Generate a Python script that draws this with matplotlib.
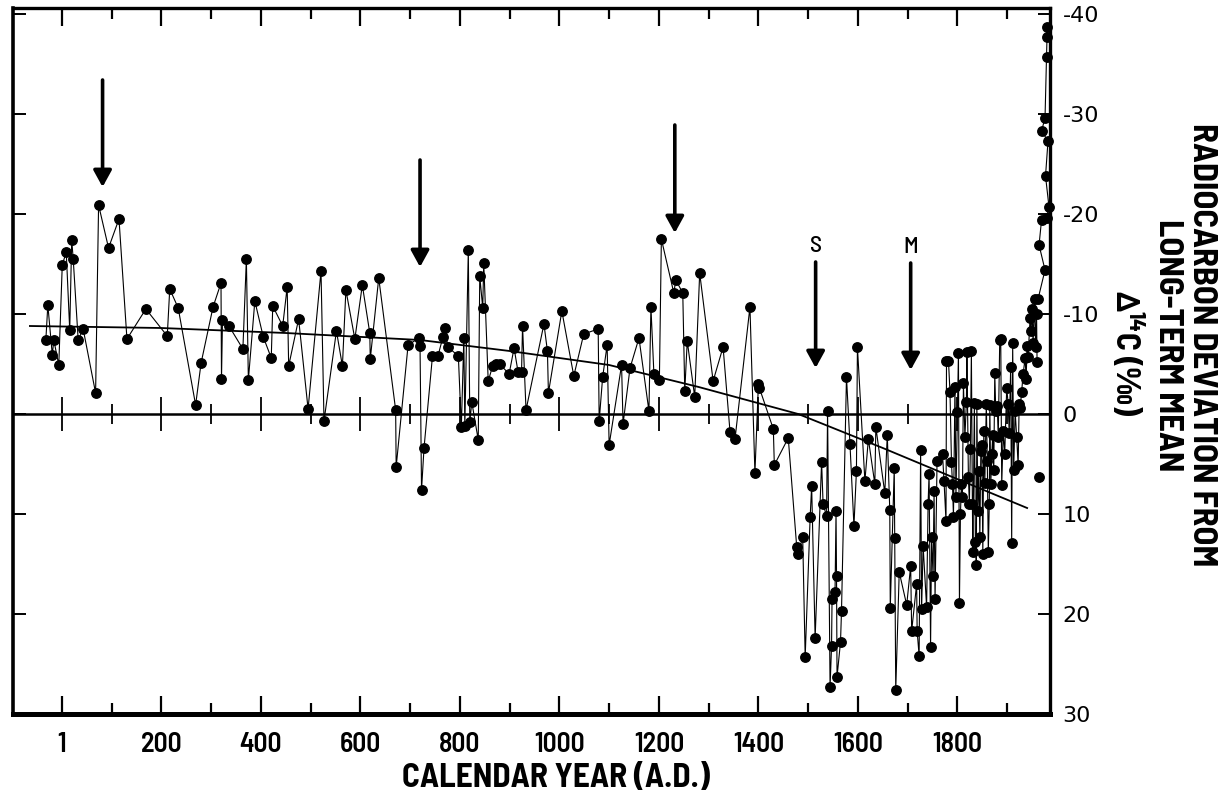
import matplotlib
matplotlib.use("Agg")
import matplotlib.pyplot as plt
from matplotlib import font_manager
from matplotlib.ticker import FixedLocator

# ---------------- data ----------------
years = [-32, -28, -19, -16, -6, 1, 9, 16, 20, 23, 33, 43, 68, 74, 94, 115, 131, 169,
         212, 217, 234, 269, 280, 304, 320, 321, 323, 336, 364, 371, 375, 388, 405, 421,
         424, 444, 453, 456, 476, 495, 521, 527, 552, 564, 571, 589, 604, 619, 620, 637,
         671, 672, 696, 718, 720, 723, 728, 745, 756, 766, 770, 776, 797, 803, 808, 810,
         817, 820, 824, 837, 840, 846, 848, 857, 866, 872, 880, 899, 909, 917, 924, 926,
         933, 969, 976, 978, 1005, 1029, 1049, 1078, 1080, 1087, 1096, 1100, 1125, 1128,
         1142, 1160, 1180, 1184, 1190, 1201, 1205, 1230, 1234, 1248, 1252, 1257, 1272,
         1282, 1309, 1329, 1343, 1353, 1383, 1393, 1400, 1402, 1430, 1432, 1460, 1477,
         1480, 1489, 1494, 1504, 1507, 1514, 1527, 1530, 1537, 1539, 1544, 1547, 1548,
         1554, 1556, 1557, 1558, 1565, 1567, 1577, 1584, 1592, 1597, 1599, 1614, 1621,
         1634, 1636, 1654, 1659, 1664, 1665, 1673, 1674, 1676, 1683, 1698, 1706, 1708,
         1718, 1719, 1723, 1726, 1728, 1731, 1738, 1741, 1743, 1746, 1748, 1751, 1753,
         1755, 1759, 1770, 1773, 1777, 1778, 1782, 1785, 1788, 1790, 1792, 1795, 1797,
         1800, 1802, 1804, 1806, 1808, 1810, 1812, 1815, 1818, 1819, 1822, 1824, 1826,
         1828, 1830, 1831, 1834, 1836, 1838, 1839, 1841, 1843, 1845, 1847, 1849, 1851,
         1853, 1855, 1858, 1860, 1862, 1864, 1865, 1867, 1869, 1871, 1873, 1875, 1877,
         1880, 1882, 1885, 1887, 1889, 1892, 1895, 1899, 1902, 1904, 1907, 1909, 1911,
         1913, 1916, 1919, 1922, 1924, 1926, 1929, 1932, 1936, 1938, 1940, 1942, 1946,
         1948, 1950, 1952, 1955, 1957, 1959, 1960]
delta = [-7.4, -10.9, -5.9, -7.4, -4.9, -14.9, -16.2, -8.4, -17.4, -15.5, -7.4, -8.5, -2.1,
         -20.9, -16.6, -19.5, -7.5, -10.5, -7.8, -12.5, -10.6, -0.9, -5.1, -10.7, -13.1,
         -3.5, -9.4, -8.8, -6.5, -15.5, -3.4, -11.3, -7.7, -5.6, -10.8, -8.8, -12.7, -4.8,
         -9.5, -0.5, -14.3, 0.7, -8.3, -4.8, -12.4, -7.5, -12.9, -8.1, -5.5, -13.6, -0.4,
         5.3, -6.9, -7.6, -6.8, 7.6, 3.4, -5.8, -5.8, -7.7, -8.6, -6.7, -5.8, 1.3, -7.6,
         1.2, -16.4, 0.8, -1.2, 2.6, -13.8, -10.6, -15.1, -3.3, -4.8, -5.0, -5.0, -4.0,
         -6.6, -4.2, -4.2, -8.8, -0.4, -9.0, -6.3, -2.1, -10.3, -3.8, -8.0, -8.5, 0.7,
         -3.7, -6.9, 3.1, -4.9, 1.0, -4.6, -7.6, -0.3, -10.7, -4.0, -3.4, -17.5, -12.1,
         -13.4, -12.1, -2.3, -7.3, -1.7, -14.1, -3.3, -6.7, 1.8, 2.5, -10.7, 5.9, -3.0,
         -2.6, 1.5, 5.1, 2.4, 13.3, 14.0, 12.3, 24.3, 10.3, 7.2, 22.4, 4.8, 9.0, 10.2,
         -0.3, 27.3, 23.2, 18.5, 17.8, 9.7, 16.2, 26.3, 22.8, 19.7, -3.7, 3.0, 11.2, 5.7,
         -6.7, 6.7, 2.5, 7.0, 1.3, 7.9, 2.1, 9.6, 19.4, 5.4, 12.4, 27.6, 15.8, 19.1, 15.2,
         21.7, 17.0, 21.7, 24.2, 3.6, 19.5, 13.2, 19.3, 9.0, 6.0, 23.3, 12.3, 16.2, 7.7,
         18.5, 4.7, 4.0, 6.7, 10.7, -5.3, -5.3, -2.2, 4.8, 7.0, 10.3, -2.7, 8.3, -0.2,
         -6.1, 18.9, 10.0, 7.0, 8.3, -3.1, 2.3, -1.2, -6.2, 6.3, 9.0, 3.5, -6.3, 9.0, 13.8,
         -1.1, 12.8, 15.1, -1.0, 9.7, 5.7, 12.3, 3.7, 3.1, 14.0, 1.7, 6.9, -1.0, 4.7, 13.8,
         9.0, -0.9, 7.0, 4.0, 2.1, 5.6, -4.1, -0.3, -0.8, 2.3, -7.4, -7.5, 7.1, 1.7, 4.0,
         -2.6, -1.0, 1.9, -4.7, 12.9, -7.1, 5.6, -0.3, 2.3, 5.1, -1.0, -0.6, -2.2, -4.0,
         -5.6, -3.5, -6.8, -5.7, -9.6, -8.3, -10.5, -7.1, -11.5, -6.7, -10.0, -5.2]

# recent points crowded against the right-hand axis
recent_years = [1962, 1976, 1964, 1969, 1979, 1984, 1977, 1982, 1969, 1976, 1979, 1980, 1980]
recent_delta = [-11.5, -14.4, -16.9, -19.4, -19.6, -20.7, -23.8, -27.3, -28.3, -29.6,
                -35.7, -37.7, -38.7]
lone_year = [1964]
lone_delta = [6.3]

# long-term trend curve
trend_years = [-64, 200, 450, 720, 900, 1100, 1280, 1480, 1650, 1780, 1940]
trend_delta = [-8.8, -8.6, -8.1, -7.4, -6.3, -4.9, -2.7, 0.0, 3.4, 6.1, 9.4]

# arrows (year, value at tail, value at head) and labels
arrow_years = [82, 720, 1232, 1515, 1706]
arrow_tail = [-33.4, -25.4, -28.9, -15.2, -15.1]
arrow_head = [-22.7, -14.7, -18.1, -4.6, -4.4]
arrow_labels = ["", "", "", "S", "M"]

xtick_major = [0, 200, 400, 600, 800, 1000, 1200, 1400, 1600, 1800]
xtick_labels = ["1", "200", "400", "600", "800", "1000", "1200", "1400", "1600", "1800"]
xtick_minor = [100, 300, 500, 700, 900, 1100, 1300, 1500, 1700, 1900]
ytick_vals = [-40, -30, -20, -10, 0, 10, 20, 30]
ytick_labels = ["-40", "-30", "-20", "-10", "0", "10", "20", "30"]

# ---------------- fonts ----------------
names = {f.name for f in font_manager.fontManager.ttflist}
def pick(*cands):
    for c in cands:
        if c in names:
            return c
    return "DejaVu Sans"
SEMI = pick("Barlow Semi Condensed", "Barlow Condensed", "Archivo Narrow")
WIDE = pick("Barlow Semi Condensed", "Barlow", "Archivo Narrow")
semi_fam = [SEMI, "DejaVu Sans"]
wide_fam = [WIDE, "DejaVu Sans"]
plt.rcParams["mathtext.fontset"] = "custom"
plt.rcParams["mathtext.rm"] = SEMI + ":bold"
plt.rcParams["mathtext.bf"] = SEMI + ":bold"
plt.rcParams["mathtext.it"] = SEMI + ":bold"
plt.rcParams["mathtext.sf"] = SEMI + ":bold"
plt.rcParams["mathtext.fallback"] = "stixsans"

W, H = 1227, 797
fig = plt.figure(figsize=(W / 100, H / 100), dpi=100)
L, R, T, B = 13, 1050, 8, 714
ax = fig.add_axes([L / W, 1 - B / H, (R - L) / W, (B - T) / H])
ax.set_xlim(-98, 1986)
ax.set_ylim(30.0, -40.6)

# data
ax.plot(years, delta, color="black", lw=0.8, marker="o", ms=6.8,
        mfc="black", mec="black", zorder=3)
ax.plot(recent_years, recent_delta, color="black", lw=0.8, marker="o", ms=6.8,
        mfc="black", mec="black", zorder=3, clip_on=False)
ax.plot(lone_year, lone_delta, ls="none", marker="o", ms=6.8, color="black", zorder=3)
ax.plot(trend_years, trend_delta, color="black", lw=1.3, zorder=2)

# zero line with crossing ticks
ax.axhline(0, color="black", lw=1.8, zorder=2)
for yr in xtick_major:
    ax.vlines(yr, -1.7, 1.7, color="black", lw=1.3, zorder=2)
for yr in xtick_minor:
    ax.vlines(yr, -1.0, 1.0, color="black", lw=1.3, zorder=2)

# arrows
for yr, t, h, lab in zip(arrow_years, arrow_tail, arrow_head, arrow_labels):
    ax.annotate("", xy=(yr, h), xytext=(yr, t),
                arrowprops=dict(arrowstyle="-|>,head_length=1.0,head_width=0.55",
                                lw=2.6, color="black", shrinkA=0, shrinkB=0))
    if lab:
        ax.text(yr, t - 1.6, lab, ha="center", va="center", fontsize=17,
                family=semi_fam, weight=500, color="black")

# spines
for side, lw in [("left", 2.6), ("top", 2.4), ("right", 2.4), ("bottom", 3.6)]:
    ax.spines[side].set_linewidth(lw)
    ax.spines[side].set_color("black")

# x ticks (bottom labelled, top mirrored), inward
ax.xaxis.set_major_locator(FixedLocator(xtick_major))
ax.xaxis.set_minor_locator(FixedLocator(xtick_minor))
ax.set_xticklabels(xtick_labels, fontsize=20, family=semi_fam, weight=600)
ax.tick_params(axis="x", which="major", direction="in", length=13, width=1.6,
               top=True, bottom=True, pad=13)
ax.tick_params(axis="x", which="minor", direction="in", length=8, width=1.6,
               top=True, bottom=True)

# y ticks (labels on right), inward on both sides
ax.yaxis.set_major_locator(FixedLocator(ytick_vals))
ax.yaxis.tick_right()
ax.set_yticklabels(ytick_labels, fontsize=16, family="DejaVu Sans")
ax.tick_params(axis="y", which="major", direction="in", length=9, width=1.4,
               left=True, right=True, labelleft=False, labelright=True, pad=9)

# axis labels
fig.text(556 / W, 1 - 778 / H, "CALENDAR YEAR (A.D.)", ha="center", va="center",
         fontsize=24, family=wide_fam, weight="bold")
fig.text(1202 / W, 1 - 345 / H, "RADIOCARBON DEVIATION FROM", rotation=-90,
         ha="center", va="center", fontsize=25, family=semi_fam, weight="bold")
fig.text(1168 / W, 1 - 345 / H, "LONG-TERM MEAN", rotation=-90,
         ha="center", va="center", fontsize=25, family=semi_fam, weight="bold")
fig.text(1127 / W, 1 - 353 / H, r"$\Delta^{14}$C (‰)", rotation=-90,
         ha="center", va="center", fontsize=24, family=semi_fam, weight="bold")

fig.savefig("out.png", dpi=100)
